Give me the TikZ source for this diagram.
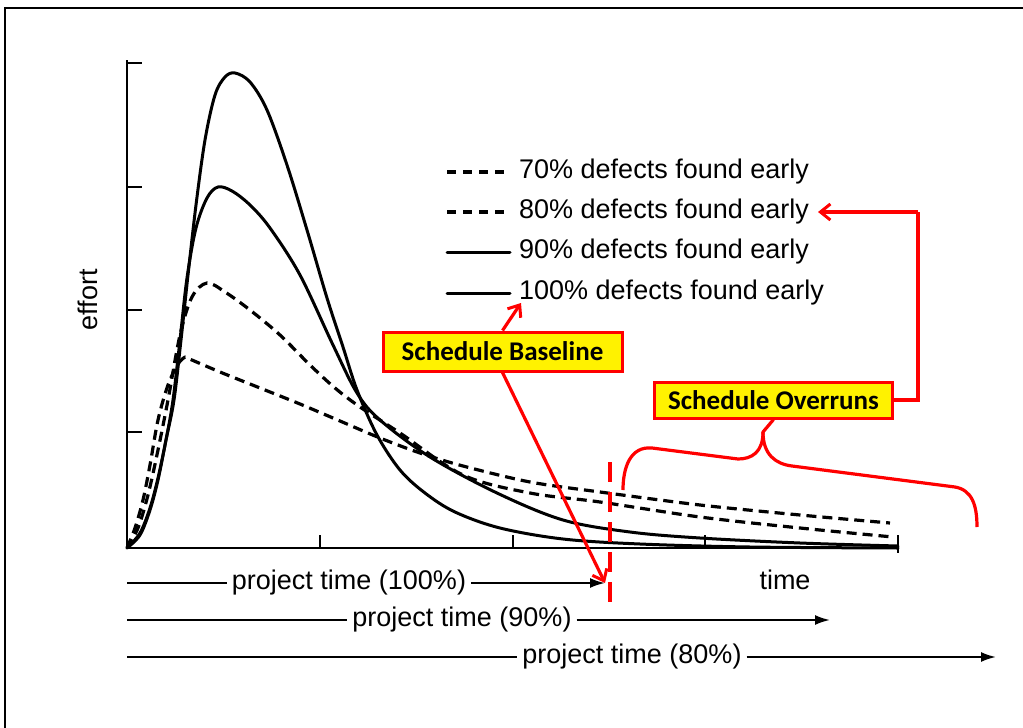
\documentclass[tikz,border=0pt]{standalone}
\usepackage{fontspec}
\setmainfont{Liberation Sans}
\newfontfamily\calib{Carlito}
\usetikzlibrary{arrows.meta}
\begin{document}
\begin{tikzpicture}[x=1pt,y=-1pt,
  crv/.style={line width=3pt,line join=round,line cap=round},
  dcrv/.style={line width=3.2pt,line join=round,dash pattern=on 10pt off 6pt},
  axisline/.style={line width=2.2pt},
  redline/.style={draw=red,line width=3.2pt},
  redarrow/.style={redline,-{Straight Barb[length=10pt,width=16pt,line width=3pt]}},
  callout/.style={draw=red,line width=3pt,fill=yellow,inner sep=0pt,
    font=\calib\bfseries\fontsize{27}{31}\selectfont},
  lbl/.style={font=\fontsize{27}{31}\selectfont,inner sep=1pt},
  ptlbl/.style={font=\fontsize{27}{31}\selectfont,inner sep=5pt},
  ptarrow/.style={line width=2pt,-{Latex[length=15pt,width=10pt]}},
  plainline/.style={line width=2pt}]
\useasboundingbox (0,0) rectangle (1023,728);
% frame
\draw[line width=2.5pt] (5,728) -- (5,8) -- (1023,8);
% axes
\coordinate (O) at (127,548);
\coordinate (ytop) at (127,60);
\coordinate (xend) at (898,548);
\draw[axisline] (ytop) -- (O) -- (xend);
\foreach \y in {63,187,310,432} \draw[axisline] (127,\y) -- (142,\y);
\foreach \x in {320,513,705} \draw[axisline] (\x,548) -- (\x,535);
\draw[axisline] (898,535) -- (898,553);
% curves
% 100%
\draw[crv] plot[smooth,tension=0.55] coordinates {(127,548) (140,535) (150,510) (158,480) (166,440) (174,400) (181,340) (188,275) (196,205) (205,140) (215,95) (225,77) (235,73) (250,82) (267,110) (287,165) (307,230) (327,298) (343,347) (357,390) (377,435) (400,470) (425,493) (455,512) (500,528) (563,539) (640,544) (750,547) (898,548)};
% 90%
\draw[crv] plot[smooth,tension=0.55] coordinates {(127,548) (140,533) (150,508) (158,478) (166,440) (173,400) (180,340) (187,278) (196,228) (207,198) (218,187) (232,191) (250,205) (270,228) (300,275) (333,345) (357,393) (380,420) (430,457) (497,493) (563,520) (630,532) (700,538) (800,543) (898,546)};
% 80%
\draw[dcrv] plot[smooth,tension=0.55] coordinates {(127,548) (138,528) (148,495) (158,450) (168,400) (180,335) (192,297) (207,283) (225,292) (250,310) (280,335) (310,365) (335,388) (360,407) (400,433) (463,475) (530,493) (600,502) (700,517) (800,528) (893,537)};
% 70%
\draw[dcrv] plot[smooth,tension=0.55] coordinates {(127,548) (135,528) (143,500) (150,465) (158,420) (168,385) (178,364) (185,357)}
  -- plot[smooth,tension=0.5] coordinates {(185,357) (220,372) (260,388) (300,404) (340,421) (380,438) (420,453) (463,466) (530,482) (600,492) (700,505) (800,515) (890,523)};
% legend
\draw[dcrv,dash pattern=on 9pt off 7pt] (447,172) -- (510,172);
\draw[dcrv,dash pattern=on 9pt off 7pt] (447,212) -- (510,212);
\draw[crv] (447,252) -- (510,252);
\draw[crv] (447,293) -- (510,293);
\node[lbl,anchor=west] (l70) at (518,172) {70\% defects found early};
\node[lbl,anchor=west] (l80) at (518,212) {80\% defects found early};
\node[lbl,anchor=west] (l90) at (518,252) {90\% defects found early};
\node[lbl,anchor=west] (l100) at (518,293) {100\% defects found early};
% axis labels
\node[lbl,rotate=90] (eff) at (88,300) {effort};
\node[lbl] (tm) at (785,580) {time};
% project time rows
\coordinate (r1s) at (127,583);
\coordinate (r1e) at (605,583);
\coordinate (r2s) at (127,620);
\coordinate (r2e) at (830,620);
\coordinate (r3s) at (127,657);
\coordinate (r3e) at (996,657);
\node[ptlbl] (p1) at (349,583) {project time (100\%)};
\node[ptlbl] (p2) at (462,620) {project time (90\%)};
\node[ptlbl] (p3) at (632,657) {project time (80\%)};
\draw[plainline] (r1s) -- (p1.west);
\draw[ptarrow] (p1.east) -- (r1e);
\draw[plainline] (r2s) -- (p2.west);
\draw[ptarrow] (p2.east) -- (r2e);
\draw[plainline] (r3s) -- (p3.west);
\draw[ptarrow] (p3.east) -- (r3e);
% red dashed deadline
\coordinate (dl1) at (610,462);
\coordinate (dl2) at (610,612);
\draw[redline,dash pattern=on 20pt off 10pt] (dl1) -- (dl2);
% callouts
\node[callout,minimum width=239pt,minimum height=39pt] (sb) at (502.5,351.5) {Schedule Baseline};
\node[callout,minimum width=238pt,minimum height=36pt] (so) at (773.5,400) {Schedule Overruns};
\coordinate (sbtip) at (521,303);
\draw[redarrow] (sb.north) -- (sbtip);
\draw[redarrow] (sb.south) -- (r1e);
\coordinate (c1) at (918,400);
\coordinate (c2) at (918,212);
\coordinate (c3) at (818,212);
\draw[redline] (so.east) -- (c1) -- (c2);
\draw[redarrow] (c2) -- (c3);
% brace
\coordinate (bcusp) at (763,432);
\coordinate (bl) at (623,490);
\coordinate (br) at (977,527);
\draw[redline,line join=round] (so.south) -- (bcusp) .. controls (763,452) and (752,459) .. (738,459) -- (652,448) .. controls (630,446) and (623,468) .. (bl);
\draw[redline,line join=round] (bcusp) .. controls (763,455) and (776,464) .. (792,466) -- (955,487) .. controls (972,490) and (977,505) .. (br);
\end{tikzpicture}
\end{document}
